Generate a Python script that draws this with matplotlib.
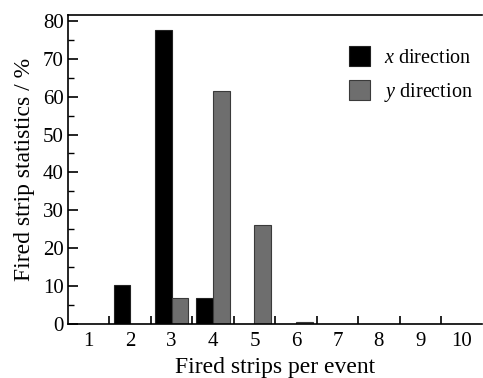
import numpy as np
import matplotlib
matplotlib.use("Agg")
from matplotlib import pyplot as plt
from matplotlib.ticker import MultipleLocator, FixedLocator

plt.rcParams["font.family"] = ["Liberation Serif", "DejaVu Serif"]
plt.rcParams["mathtext.fontset"] = "custom"
plt.rcParams["mathtext.it"] = "Liberation Serif:italic"
plt.rcParams["mathtext.rm"] = "Liberation Serif"

# Fired strips per event and percentages per direction
strips = [1, 2, 3, 4, 5, 6, 7, 8, 9, 10]
x_direction = [0, 10.4, 77.5, 6.9, 0, 0, 0, 0, 0, 0]
y_direction = [0, 0, 6.9, 61.5, 26.0, 0.4, 0, 0, 0, 0]

fig = plt.figure(figsize=(4.83, 3.78), dpi=100)
ax = fig.add_axes([0.1408, 0.1429, 0.858, 0.817])

pos = np.array(strips)
w = 0.4
ax.bar(pos - w / 2, x_direction, width=w, color="black", edgecolor="#222222",
       linewidth=0.8, label="$x$ direction")
ax.bar(pos + w / 2, y_direction, width=w, color="#6e6e6e", edgecolor="#3a3a3a",
       linewidth=0.8, label="$y$ direction")

ax.set_xlim(0.5, 10.5)
ax.set_ylim(0, 81.5)
ax.xaxis.set_major_locator(FixedLocator(strips))
ax.xaxis.set_minor_locator(FixedLocator(np.arange(1.5, 10.5, 1)))
ax.yaxis.set_major_locator(MultipleLocator(10))
ax.yaxis.set_minor_locator(MultipleLocator(5))
ax.tick_params(axis="x", which="major", length=0, labelsize=15, pad=6)
ax.tick_params(axis="x", which="minor", direction="in", length=6, width=1.2)
ax.tick_params(axis="y", which="major", direction="in", length=7, width=1.2,
               labelsize=15, pad=3)
ax.tick_params(axis="y", which="minor", direction="in", length=4, width=1.0)
ax.tick_params(top=False, right=False)
for s in ax.spines.values():
    s.set_linewidth(1.2)
ax.spines["right"].set_visible(False)

ax.set_xlabel("Fired strips per event", fontsize=17, labelpad=4)
ax.set_ylabel("Fired strip statistics / %", fontsize=17, labelpad=6)

ax.legend(loc="upper right", frameon=False, fontsize=14.5, handlelength=1.0,
          handleheight=1.2, handletextpad=0.7, labelspacing=0.6,
          bbox_to_anchor=(1.02, 0.96))

fig.savefig("out.png", dpi=100)
